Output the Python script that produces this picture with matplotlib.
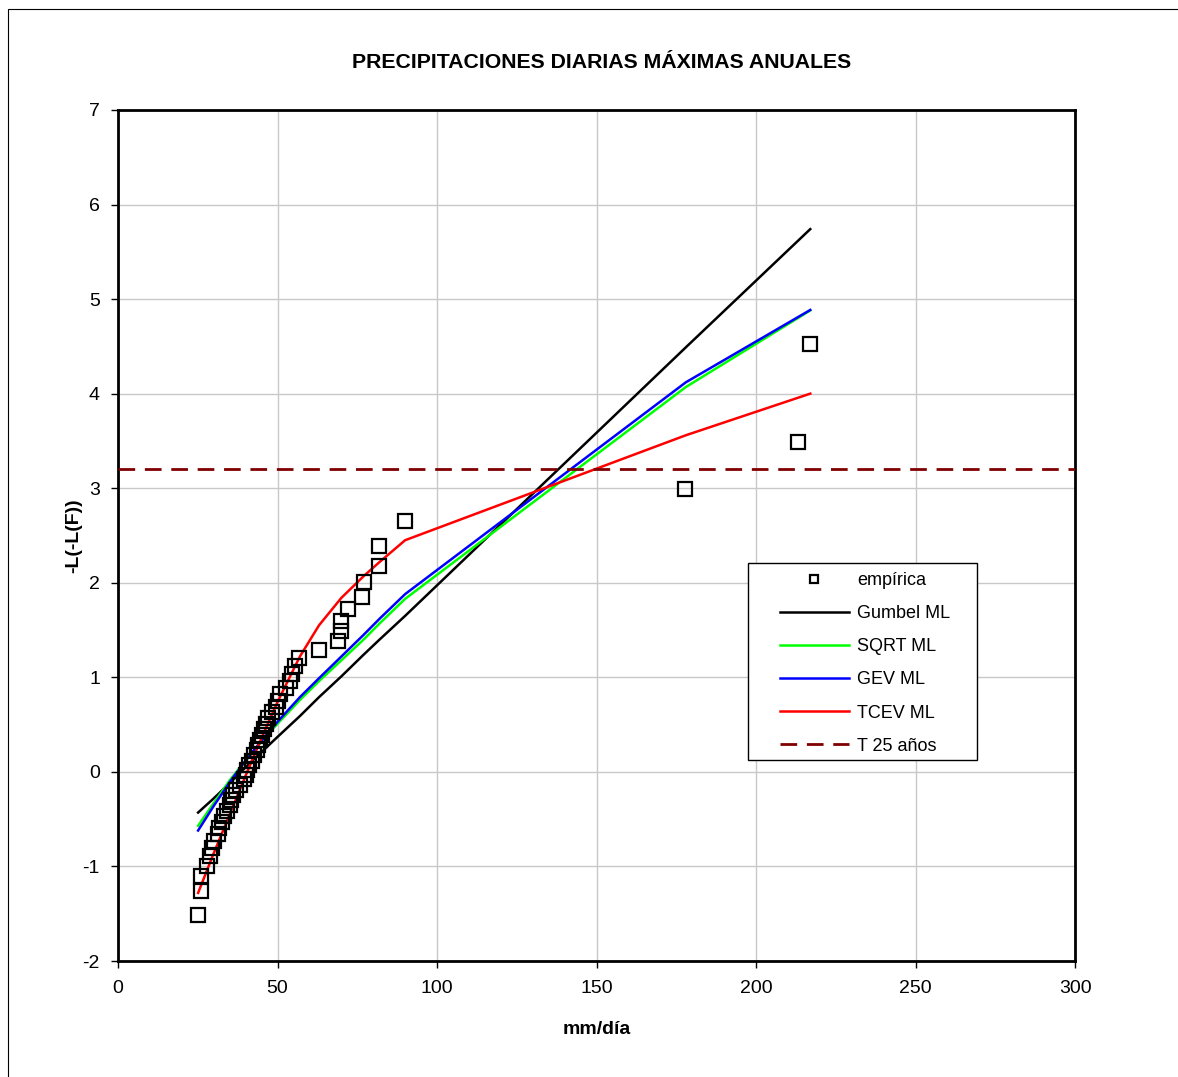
import matplotlib
matplotlib.use("Agg")
import matplotlib.pyplot as plt
from matplotlib.patches import Rectangle

plt.rcParams['font.family'] = ['Liberation Sans', 'DejaVu Sans']
plt.rcParams['axes.unicode_minus'] = False

# empirical points (mm/dia, reduced variate)
emp_x = [25.1, 26.0, 26.1, 27.9, 28.8, 29.5, 30.1, 31.3, 31.8, 32.6,
         33.2, 34.2, 35.0, 35.4, 36.0, 37.0, 38.2, 39.5, 40.0, 40.3,
         41.0, 42.0, 42.6, 43.5, 44.0, 44.5, 45.2, 45.8, 46.4, 47.0,
         48.2, 49.5, 50.0, 50.8, 52.5, 54.0, 54.6, 55.5, 56.6, 63.0,
         69.0, 69.9, 70.0, 72.1, 76.5, 77.0, 81.8, 81.9, 90.0, 177.7,
         213.2, 217.0]
emp_y = [-1.51, -1.26, -1.10, -0.99, -0.89, -0.81, -0.73, -0.66, -0.59, -0.53,
         -0.47, -0.41, -0.35, -0.30, -0.24, -0.19, -0.14, -0.08, -0.03, 0.02,
         0.07, 0.12, 0.18, 0.23, 0.28, 0.34, 0.39, 0.45, 0.51, 0.57,
         0.63, 0.69, 0.75, 0.82, 0.89, 0.96, 1.04, 1.12, 1.20, 1.29,
         1.38, 1.49, 1.60, 1.72, 1.85, 2.01, 2.18, 2.39, 2.65, 2.99,
         3.49, 4.53]

# fitted distributions
fit_x = [25.1, 30, 35, 40, 45, 50, 57, 63, 70, 77, 82, 90, 178, 217]
gumbel_y = [-0.43, -0.28, -0.12, 0.05, 0.21, 0.37, 0.59, 0.79, 1.01, 1.24, 1.40, 1.65, 4.49, 5.74]
sqrt_y = [-0.57, -0.33, -0.09, 0.12, 0.32, 0.51, 0.76, 0.96, 1.18, 1.40, 1.57, 1.83, 4.07, 4.88]
gev_y = [-0.62, -0.36, -0.11, 0.12, 0.33, 0.53, 0.79, 0.99, 1.22, 1.45, 1.62, 1.88, 4.12, 4.885]
tcev_y = [-1.28, -0.86, -0.45, -0.04, 0.36, 0.74, 1.22, 1.55, 1.84, 2.07, 2.22, 2.45, 3.56, 4.0]

t25 = 3.2

fig = plt.figure(figsize=(11.78, 10.77), dpi=100)
ax = fig.add_axes([0.1002, 0.1077, 0.8124, 0.7902])

# outer chart frame
fig.patches.append(Rectangle((8 / 1178, -0.01), 1.0, 1 - 9 / 1077 + 0.01,
                             transform=fig.transFigure, fill=False,
                             edgecolor='black', linewidth=0.8))

ax.plot(emp_x, emp_y, linestyle='none', marker='s', markersize=10,
        markerfacecolor='none', markeredgecolor='black', markeredgewidth=1.6,
        label='empírica', zorder=4)
ax.plot(fit_x, gumbel_y, color='black', lw=1.8, label='Gumbel ML', zorder=3)
ax.plot(fit_x, sqrt_y, color='#00FF00', lw=1.8, label='SQRT ML', zorder=3)
ax.plot(fit_x, gev_y, color='#0000FF', lw=1.8, label='GEV ML', zorder=3)
ax.plot(fit_x, tcev_y, color='#FF0000', lw=1.8, label='TCEV ML', zorder=3)
ax.axhline(t25, color='#800000', lw=2.0, dashes=(6, 3.5), label='T 25 años', zorder=3)

ax.set_xlim(0, 300)
ax.set_ylim(-2, 7)
ax.set_xticks(range(0, 301, 50))
ax.set_yticks(range(-2, 8))
ax.grid(True, color='#c8c8c8', lw=1.0)
ax.set_axisbelow(True)
for s in ax.spines.values():
    s.set_linewidth(2)
ax.tick_params(direction='out', length=5, width=1, labelsize=14, pad=8)
ax.tick_params(axis='x', pad=9)

ax.set_xlabel('mm/día', fontsize=14, fontweight='bold', labelpad=17)
ax.set_ylabel('-L(-L(F))', fontsize=14, fontweight='bold', labelpad=0)
ax.set_title('PRECIPITACIONES DIARIAS MÁXIMAS ANUALES', fontsize=15.3,
             fontweight='bold', pad=30, x=0.505)

# legend box drawn separately so its padding can match the original
ax.add_patch(Rectangle((0.6583, 0.2362), 0.8976 - 0.6583, 0.4677 - 0.2362,
                       transform=ax.transAxes, facecolor='white',
                       edgecolor='black', linewidth=1.0, zorder=5))
leg = ax.legend(loc='upper left', bbox_to_anchor=(0.6918, 0.4568), borderaxespad=0,
                fontsize=13, frameon=False, markerscale=0.6, numpoints=1,
                handlelength=3.8, handletextpad=0.45, labelspacing=0.89,
                borderpad=0)
leg.set_zorder(6)

fig.savefig('out.png', dpi=100)
